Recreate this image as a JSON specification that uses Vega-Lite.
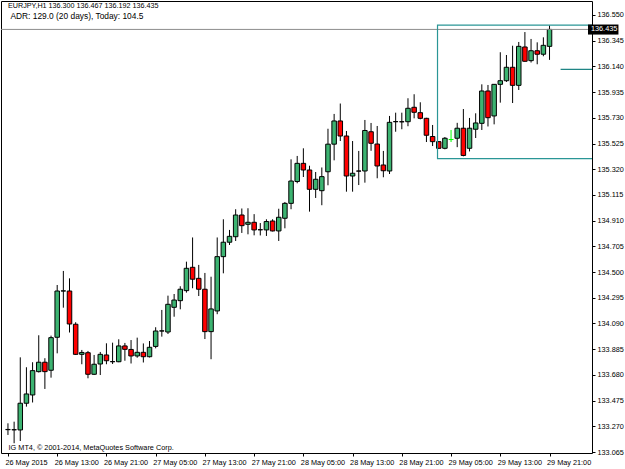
{
 "$schema": "https://vega.github.io/schema/vega-lite/v6.json",
 "width": 591, "height": 452,
 "autosize": {"type": "none"},
 "padding": {"left": 1, "top": 1, "right": 33, "bottom": 16},
 "background": "#ffffff",
 "config": {
  "view": {"stroke": "#000000", "strokeWidth": 1},
  "axis": {"grid": false, "domain": false, "labelFont": "Liberation Sans", "labelFontSize": 7.3, "labelColor": "#000000", "tickColor": "#000000", "tickSize": 3, "title": null, "labelOverlap": false, "labelFlush": false}
 },
 "data": {"values": [
  {"i":0,"o":133.243,"h":133.294,"l":133.201,"c":133.245},
  {"i":1,"o":133.243,"h":133.307,"l":133.135,"c":133.242},
  {"i":2,"o":133.241,"h":133.820,"l":133.153,"c":133.454},
  {"i":3,"o":133.454,"h":133.741,"l":133.427,"c":133.528},
  {"i":4,"o":133.520,"h":133.781,"l":133.460,"c":133.714},
  {"i":5,"o":133.706,"h":133.996,"l":133.699,"c":133.781},
  {"i":6,"o":133.781,"h":133.813,"l":133.568,"c":133.706},
  {"i":7,"o":133.717,"h":133.993,"l":133.658,"c":133.977},
  {"i":8,"o":133.980,"h":134.397,"l":133.852,"c":134.349},
  {"i":9,"o":134.349,"h":134.509,"l":134.216,"c":134.350},
  {"i":10,"o":134.349,"h":134.450,"l":134.018,"c":134.086},
  {"i":11,"o":134.084,"h":134.100,"l":133.839,"c":133.844},
  {"i":12,"o":133.844,"h":133.879,"l":133.765,"c":133.859},
  {"i":13,"o":133.857,"h":133.871,"l":133.653,"c":133.685},
  {"i":14,"o":133.685,"h":133.839,"l":133.679,"c":133.765},
  {"i":15,"o":133.767,"h":133.863,"l":133.679,"c":133.844},
  {"i":16,"o":133.839,"h":133.932,"l":133.765,"c":133.793},
  {"i":17,"o":133.785,"h":133.937,"l":133.767,"c":133.786},
  {"i":18,"o":133.785,"h":133.964,"l":133.781,"c":133.911},
  {"i":19,"o":133.911,"h":133.935,"l":133.793,"c":133.884},
  {"i":20,"o":133.883,"h":133.958,"l":133.771,"c":133.831},
  {"i":21,"o":133.831,"h":133.977,"l":133.817,"c":133.860},
  {"i":22,"o":133.860,"h":133.931,"l":133.779,"c":133.825},
  {"i":23,"o":133.825,"h":133.950,"l":133.819,"c":133.900},
  {"i":24,"o":133.907,"h":134.060,"l":133.892,"c":134.030},
  {"i":25,"o":134.030,"h":134.198,"l":133.985,"c":134.031},
  {"i":26,"o":134.022,"h":134.312,"l":134.006,"c":134.243},
  {"i":27,"o":134.219,"h":134.325,"l":134.144,"c":134.277},
  {"i":28,"o":134.272,"h":134.387,"l":134.203,"c":134.363},
  {"i":29,"o":134.352,"h":134.583,"l":134.336,"c":134.530},
  {"i":30,"o":134.538,"h":134.776,"l":134.371,"c":134.443},
  {"i":31,"o":134.450,"h":134.557,"l":134.309,"c":134.363},
  {"i":32,"o":134.363,"h":134.493,"l":133.966,"c":134.025},
  {"i":33,"o":134.025,"h":134.463,"l":133.805,"c":134.206},
  {"i":34,"o":134.190,"h":134.776,"l":134.164,"c":134.623},
  {"i":35,"o":134.623,"h":134.921,"l":134.490,"c":134.738},
  {"i":36,"o":134.738,"h":134.836,"l":134.716,"c":134.785},
  {"i":37,"o":134.782,"h":135.001,"l":134.748,"c":134.955},
  {"i":38,"o":134.955,"h":135.007,"l":134.812,"c":134.870},
  {"i":39,"o":134.881,"h":135.009,"l":134.801,"c":134.897},
  {"i":40,"o":134.897,"h":134.962,"l":134.793,"c":134.836},
  {"i":41,"o":134.838,"h":134.891,"l":134.792,"c":134.837},
  {"i":42,"o":134.836,"h":134.921,"l":134.788,"c":134.903},
  {"i":43,"o":134.907,"h":134.921,"l":134.824,"c":134.828},
  {"i":44,"o":134.828,"h":135.005,"l":134.748,"c":134.937},
  {"i":45,"o":134.929,"h":135.059,"l":134.849,"c":135.048},
  {"i":46,"o":135.048,"h":135.399,"l":135.001,"c":135.226},
  {"i":47,"o":135.222,"h":135.426,"l":135.208,"c":135.367},
  {"i":48,"o":135.367,"h":135.487,"l":135.258,"c":135.314},
  {"i":49,"o":135.314,"h":135.348,"l":134.982,"c":135.160},
  {"i":50,"o":135.160,"h":135.298,"l":135.091,"c":135.240},
  {"i":51,"o":135.149,"h":135.334,"l":135.033,"c":135.261},
  {"i":52,"o":135.300,"h":135.643,"l":135.192,"c":135.520},
  {"i":53,"o":135.520,"h":135.761,"l":135.391,"c":135.705},
  {"i":54,"o":135.705,"h":135.844,"l":135.545,"c":135.585},
  {"i":55,"o":135.585,"h":135.625,"l":135.141,"c":135.266},
  {"i":56,"o":135.266,"h":135.545,"l":135.141,"c":135.288},
  {"i":57,"o":135.306,"h":135.466,"l":135.194,"c":135.305},
  {"i":58,"o":135.306,"h":135.713,"l":135.213,"c":135.629},
  {"i":59,"o":135.619,"h":135.689,"l":135.467,"c":135.527},
  {"i":60,"o":135.521,"h":135.665,"l":135.248,"c":135.346},
  {"i":61,"o":135.354,"h":135.466,"l":135.256,"c":135.308},
  {"i":62,"o":135.306,"h":135.745,"l":135.282,"c":135.694},
  {"i":63,"o":135.699,"h":135.771,"l":135.619,"c":135.700},
  {"i":64,"o":135.699,"h":135.771,"l":135.639,"c":135.698},
  {"i":65,"o":135.699,"h":135.886,"l":135.663,"c":135.806},
  {"i":66,"o":135.814,"h":135.918,"l":135.726,"c":135.774},
  {"i":67,"o":135.771,"h":135.854,"l":135.718,"c":135.726},
  {"i":68,"o":135.726,"h":135.730,"l":135.537,"c":135.591},
  {"i":69,"o":135.581,"h":135.673,"l":135.505,"c":135.540},
  {"i":70,"o":135.540,"h":135.545,"l":135.482,"c":135.487},
  {"i":71,"o":135.487,"h":135.577,"l":135.479,"c":135.567},
  {"i":72,"o":135.557,"h":135.633,"l":135.537,"c":135.557},
  {"i":73,"o":135.567,"h":135.690,"l":135.496,"c":135.647},
  {"i":74,"o":135.647,"h":135.800,"l":135.423,"c":135.430},
  {"i":75,"o":135.487,"h":135.729,"l":135.462,"c":135.647},
  {"i":76,"o":135.639,"h":135.766,"l":135.569,"c":135.689},
  {"i":77,"o":135.686,"h":135.997,"l":135.633,"c":135.944},
  {"i":78,"o":135.944,"h":135.992,"l":135.661,"c":135.731},
  {"i":79,"o":135.745,"h":135.999,"l":135.678,"c":135.997},
  {"i":80,"o":135.997,"h":136.253,"l":135.851,"c":136.026},
  {"i":81,"o":136.026,"h":136.231,"l":136.016,"c":136.133},
  {"i":82,"o":136.133,"h":136.305,"l":135.848,"c":135.989},
  {"i":83,"o":135.989,"h":136.335,"l":135.952,"c":136.300},
  {"i":84,"o":136.295,"h":136.414,"l":136.178,"c":136.181},
  {"i":85,"o":136.186,"h":136.359,"l":136.171,"c":136.265},
  {"i":86,"o":136.265,"h":136.332,"l":136.157,"c":136.237},
  {"i":87,"o":136.237,"h":136.372,"l":136.221,"c":136.308},
  {"i":88,"o":136.300,"h":136.467,"l":136.192,"c":136.435}
 ]},
 "layer": [
  {
   "mark": {"type": "rule", "color": "#000000", "strokeWidth": 1},
   "encoding": {
    "x": {"field": "i", "type": "quantitative",
     "scale": {"domain": [-0.3195, 94.09], "nice": false, "zero": false},
     "axis": {"values": [0,8,16,24,32,40,48,56,64,72,80,88], "tickCount": 40,
      "labelExpr": "['26 May 2015','26 May 13:00','26 May 21:00','27 May 05:00','27 May 13:00','27 May 21:00','28 May 05:00','28 May 13:00','28 May 21:00','29 May 05:00','29 May 13:00','29 May 21:00'][round(datum.value/8)]",
      "labelAlign": "left", "labelBaseline": "top", "labelPadding": 2, "labelOffset": -3, "labelOverlap": false, "labelFlush": false, "labelBound": false}},
    "y": {"field": "l", "type": "quantitative",
     "scale": {"domain": [133.0572, 136.6616], "nice": false, "zero": false},
     "axis": {"orient": "right", "tickCount": 40, "values": [133.065,133.270,133.475,133.680,133.885,134.090,134.295,134.500,134.705,134.910,135.115,135.320,135.525,135.730,135.935,136.140,136.345,136.550],
      "format": ".3f", "labelPadding": 2, "labelBaseline": "middle", "labelOverlap": false, "labelFlush": false, "labelBound": false}},
    "y2": {"field": "h"},
    "color": {"condition": {"test": "datum.o == datum.c", "value": "#00ff00"}, "value": "#000000"}
   }
  },
  {
   "mark": {"type": "bar", "width": 4.5, "strokeWidth": 1},
   "encoding": {
    "x": {"field": "i", "type": "quantitative"},
    "y": {"field": "o", "type": "quantitative"},
    "y2": {"field": "c"},
    "fill": {"condition": [{"test": "datum.c > datum.o", "value": "#3cb371"}, {"test": "datum.c < datum.o", "value": "#ff0000"}], "value": "#00ff00"},
    "stroke": {"condition": {"test": "datum.o == datum.c", "value": "#00ff00"}, "value": "#000000"}
   }
  },
  {
   "data": {"values": [{}]},
   "mark": {"type": "rule", "color": "#8c8c8c", "strokeWidth": 1},
   "encoding": {"y": {"datum": 136.435}}
  },
  {
   "data": {"values": [{}]},
   "mark": {"type": "rect", "fill": null, "fillOpacity": 0, "stroke": "#2a9696", "strokeWidth": 1.2, "clip": true},
   "encoding": {"x": {"datum": 69.8}, "x2": {"datum": 99}, "y": {"datum": 136.470}, "y2": {"datum": 135.405}}
  },
  {
   "data": {"values": [{}]},
   "mark": {"type": "rule", "color": "#1f8585", "strokeWidth": 1.2, "clip": true},
   "encoding": {"x": {"datum": 89.8}, "x2": {"datum": 99}, "y": {"datum": 136.117}}
  },
  {
   "data": {"values": [{}]},
   "mark": {"type": "text", "align": "left", "baseline": "alphabetic", "font": "Liberation Sans", "fontSize": 7.2, "color": "#000000", "text": "EURJPY,H1  136.300 136.467 136.192 136.435"},
   "encoding": {"x": {"datum": 0}, "y": {"datum": 136.606}}
  },
  {
   "data": {"values": [{}]},
   "mark": {"type": "text", "align": "left", "baseline": "alphabetic", "font": "Liberation Sans", "fontSize": 8.4, "color": "#000000", "text": "ADR: 129.0 (20 days), Today: 104.5"},
   "encoding": {"x": {"datum": 0.4}, "y": {"datum": 136.518}}
  },
  {
   "data": {"values": [{}]},
   "mark": {"type": "text", "align": "left", "baseline": "alphabetic", "font": "Liberation Sans", "fontSize": 7.3, "color": "#000000", "text": "IG MT4, © 2001-2014, MetaQuotes Software Corp."},
   "encoding": {"x": {"datum": 0.1}, "y": {"datum": 133.081}}
  },
  {
   "data": {"values": [{}]},
   "mark": {"type": "rect", "fill": "#000000"},
   "encoding": {"x": {"datum": 94.25}, "x2": {"datum": 99.2}, "y": {"datum": 136.474}, "y2": {"datum": 136.394}}
  },
  {
   "data": {"values": [{}]},
   "mark": {"type": "text", "align": "left", "baseline": "middle", "font": "Liberation Sans", "fontSize": 7.3, "color": "#ffffff", "text": "136.435"},
   "encoding": {"x": {"datum": 94.73}, "y": {"datum": 136.435}}
  }
 ]
}
